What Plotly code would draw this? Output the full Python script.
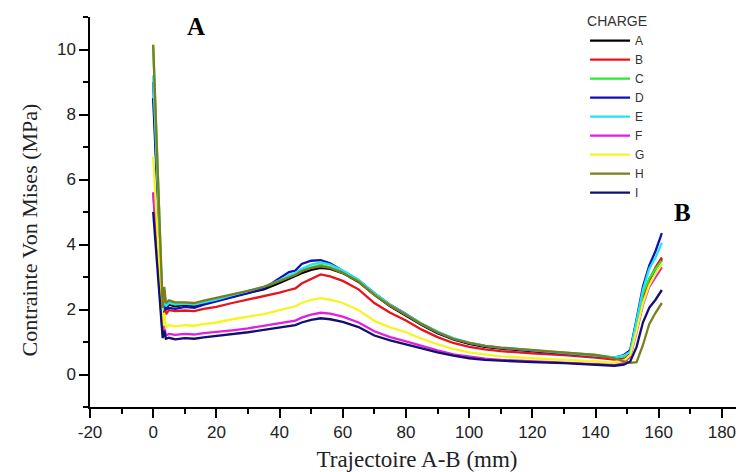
import plotly.graph_objects as go

# Trajectory positions (mm)
x_mm = [0, 1.5, 3, 3.5, 4, 5, 7, 10, 13, 16, 20, 25, 30, 35, 40, 43, 45, 47, 50, 53,
        56, 60, 65, 70, 75, 80, 85, 90, 95, 100, 105, 110, 120, 130, 140, 146, 149, 151,
        153, 155, 157, 159, 161]

charge_A = [8.5, 5.3, 1.9, 2.45, 2.05, 2.15, 2.1, 2.15, 2.1, 2.2, 2.27, 2.4, 2.5, 2.62, 2.82,
            2.95, 3.02, 3.12, 3.22, 3.28, 3.25, 3.12, 2.85, 2.45, 2.1, 1.82, 1.52, 1.27, 1.08,
            0.94, 0.85, 0.8, 0.72, 0.65, 0.57, 0.5, 0.52, 0.7, 1.5, 2.4, 2.9, 3.25, 3.55]
charge_B = [5.6, 3.6, 1.75, 2.2, 1.85, 1.98, 1.95, 1.97, 1.95, 2.02, 2.08, 2.2, 2.3, 2.4, 2.52,
            2.6, 2.65, 2.8, 2.95, 3.08, 3.02, 2.88, 2.62, 2.2, 1.9, 1.66, 1.38, 1.15, 0.97,
            0.85, 0.77, 0.72, 0.65, 0.6, 0.52, 0.46, 0.5, 0.68, 1.45, 2.35, 2.9, 3.3, 3.6]
charge_C = [10.1, 6.2, 2.0, 2.6, 2.15, 2.25, 2.2, 2.2, 2.18, 2.25, 2.32, 2.45, 2.55, 2.68, 2.88,
            3.0, 3.08, 3.2, 3.3, 3.38, 3.3, 3.15, 2.88, 2.45, 2.12, 1.85, 1.55, 1.3, 1.1,
            0.97, 0.88, 0.82, 0.74, 0.68, 0.6, 0.52, 0.55, 0.75, 1.6, 2.5, 2.95, 3.25, 3.5]
charge_D = [9.0, 5.6, 1.85, 2.4, 2.0, 2.05, 2.02, 2.08, 2.05, 2.15, 2.25, 2.38, 2.5, 2.65, 2.95,
            3.15, 3.2, 3.4, 3.5, 3.52, 3.42, 3.2, 2.9, 2.5, 2.15, 1.86, 1.55, 1.3, 1.1,
            0.96, 0.87, 0.81, 0.73, 0.66, 0.58, 0.52, 0.6, 0.75, 1.7, 2.7, 3.35, 3.8, 4.35]
charge_E = [9.2, 5.7, 1.95, 2.5, 2.1, 2.2, 2.15, 2.18, 2.15, 2.22, 2.3, 2.44, 2.56, 2.7, 2.9,
            3.05, 3.12, 3.25, 3.38, 3.45, 3.38, 3.2, 2.92, 2.5, 2.15, 1.87, 1.57, 1.32, 1.12,
            0.98, 0.89, 0.83, 0.75, 0.68, 0.6, 0.53, 0.58, 0.7, 1.65, 2.6, 3.25, 3.6, 4.05]
charge_F = [5.6, 3.3, 1.25, 1.5, 1.2, 1.25, 1.22, 1.25, 1.23, 1.27, 1.3, 1.36, 1.42, 1.5, 1.58,
            1.62, 1.66, 1.75, 1.84, 1.9, 1.87, 1.78, 1.6, 1.33, 1.15, 1.02, 0.87, 0.74, 0.62,
            0.55, 0.49, 0.45, 0.4, 0.36, 0.32, 0.3, 0.36, 0.55, 1.3, 2.15, 2.7, 3.0, 3.3]
charge_G = [6.7, 4.0, 1.5, 1.9, 1.45, 1.52, 1.48, 1.52, 1.5, 1.55, 1.6, 1.7, 1.78, 1.86, 1.98,
            2.05, 2.1, 2.2, 2.3, 2.35, 2.3, 2.2, 1.98, 1.65, 1.45, 1.3, 1.1, 0.93, 0.79,
            0.68, 0.61, 0.56, 0.5, 0.46, 0.4, 0.36, 0.42, 0.6, 1.35, 2.2, 2.75, 3.1, 3.4]
charge_H = [10.15, 6.3, 2.05, 2.7, 2.2, 2.28, 2.22, 2.22, 2.2, 2.27, 2.35, 2.47, 2.57, 2.7, 2.88,
            3.0, 3.06, 3.18, 3.28, 3.33, 3.28, 3.12, 2.86, 2.45, 2.12, 1.84, 1.55, 1.3, 1.1,
            0.97, 0.88, 0.83, 0.75, 0.68, 0.6, 0.5, 0.4, 0.36, 0.38, 0.9, 1.55, 1.9, 2.2]
charge_I = [5.0, 3.0, 1.12, 1.35, 1.1, 1.13, 1.08, 1.12, 1.1, 1.14, 1.18, 1.24, 1.3, 1.37, 1.45,
            1.5, 1.52, 1.6, 1.68, 1.73, 1.7, 1.62, 1.46, 1.2, 1.05, 0.93, 0.8, 0.68, 0.58,
            0.5, 0.45, 0.42, 0.38, 0.35, 0.3, 0.27, 0.3, 0.4, 0.85, 1.6, 2.05, 2.3, 2.6]

series_names = ["A", "B", "C", "D", "E", "F", "G", "H", "I"]
series_values = [charge_A, charge_B, charge_C, charge_D, charge_E,
                 charge_F, charge_G, charge_H, charge_I]
series_colors = ["#000000", "#e8141c", "#2ee82e", "#1010b8", "#22e6ee",
                 "#e020e0", "#f5f520", "#7d7d1e", "#10106e"]

x_tickvals = [-20, 0, 20, 40, 60, 80, 100, 120, 140, 160, 180]
x_ticktext = ["-20", "0", "20", "40", "60", "80", "100", "120", "140", "160", "180"]
y_tickvals = [0, 2, 4, 6, 8, 10]
y_ticktext = ["0", "2", "4", "6", "8", "10"]

fig = go.Figure()
for name, vals, col in zip(series_names, series_values, series_colors):
    fig.add_trace(go.Scatter(x=x_mm, y=vals, mode="lines", name=name,
                             line=dict(color=col, width=2.3)))

fig.add_annotation(x=13.6, y=10.7, text="<b>A</b>", showarrow=False,
                   font=dict(family="Liberation Serif", size=25, color="#000"))
fig.add_annotation(x=167.4, y=4.98, text="<b>B</b>", showarrow=False,
                   font=dict(family="Liberation Serif", size=25, color="#000"))
# y-axis title (placed slightly below the plot centre, as in the original)
fig.add_annotation(xref="paper", yref="paper", x=-0.092, y=0.455, textangle=-90,
                   text="Contrainte Von Mises (MPa)", showarrow=False,
                   xanchor="center", yanchor="middle",
                   font=dict(family="Liberation Serif", size=22, color="#222"))

axis_common = dict(showline=True, linecolor="#000", linewidth=1.5, ticks="outside",
                   ticklen=9, tickwidth=1.5, tickcolor="#000", showgrid=False,
                   zeroline=False, automargin=False,
                   tickfont=dict(family="Liberation Sans", size=17, color="#222"))

fig.update_xaxes(range=[-20, 187], tickmode="array", tickvals=x_tickvals, ticktext=x_ticktext,
                 minor=dict(dtick=10, tick0=0, ticks="outside", ticklen=5, tickwidth=1.5, tickcolor="#000"),
                 title=dict(text="Trajectoire A-B (mm)",
                            font=dict(family="Liberation Serif", size=23, color="#222")),
                 **axis_common)
fig.update_yaxes(range=[-1, 11], tickmode="array", tickvals=y_tickvals, ticktext=y_ticktext,
                 minor=dict(dtick=1, tick0=0, ticks="outside", ticklen=5, tickwidth=1.5, tickcolor="#000"),
                 **axis_common)

fig.update_layout(
    width=736, height=464,
    margin=dict(l=82, r=0, t=5, b=65),
    paper_bgcolor="white", plot_bgcolor="white",
    legend=dict(title=dict(text="CHARGE", font=dict(family="Liberation Sans", size=14, color="#333")),
                font=dict(family="Liberation Sans", size=12, color="#333"),
                x=0.757, y=1.024, xanchor="left", yanchor="top",
                bgcolor="rgba(0,0,0,0)", itemwidth=40, tracegroupgap=0),
    showlegend=True,
)

fig.write_html("out.html")
